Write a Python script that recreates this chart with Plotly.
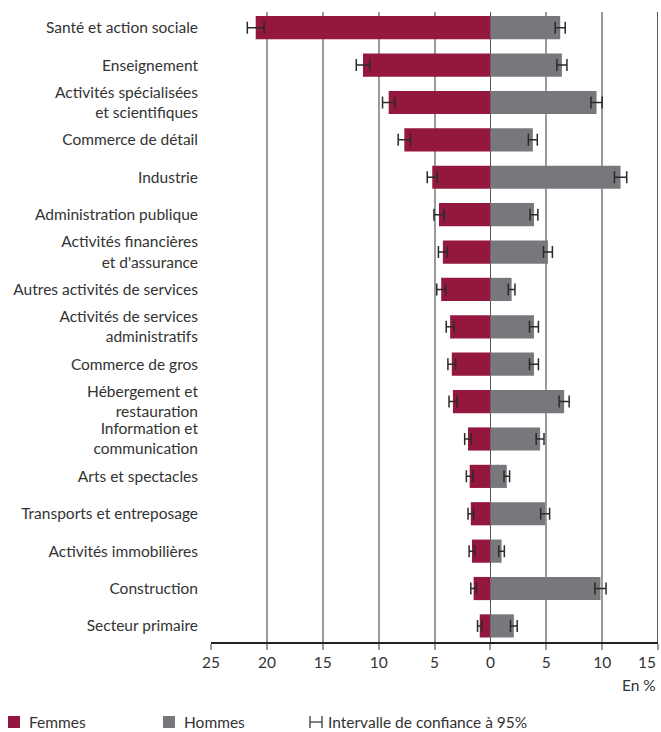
import plotly.graph_objects as go

categories = [
    "Santé et action sociale", "Enseignement", "Activités spécialisées<br>et scientifiques",
    "Commerce de détail", "Industrie", "Administration publique",
    "Activités financières<br>et d'assurance", "Autres activités de services",
    "Activités de services<br>administratifs", "Commerce de gros",
    "Hébergement et<br>restauration", "Information et<br>communication",
    "Arts et spectacles", "Transports et entreposage", "Activités immobilières",
    "Construction", "Secteur primaire",
]
femmes = [21.0, 11.4, 9.1, 7.7, 5.2, 4.6, 4.25, 4.4, 3.6, 3.45, 3.35, 2.0, 1.85, 1.75, 1.65, 1.5, 0.95]
femmes_ci = [0.75, 0.6, 0.55, 0.55, 0.45, 0.45, 0.4, 0.4, 0.35, 0.35, 0.35, 0.3, 0.3, 0.25, 0.25, 0.25, 0.2]
hommes = [6.25, 6.4, 9.5, 3.8, 11.65, 3.9, 5.15, 1.9, 3.9, 3.9, 6.6, 4.45, 1.47, 4.9, 1.0, 9.85, 2.1]
hommes_ci = [0.45, 0.45, 0.5, 0.4, 0.55, 0.35, 0.4, 0.3, 0.4, 0.4, 0.45, 0.35, 0.25, 0.4, 0.25, 0.5, 0.3]
tick_vals = [-25, -20, -15, -10, -5, 0, 5, 10, 15]
tick_text = ["25", "20", "15", "10", "5", "0", "5", "10", ""]
last_tick_label = "15"

RED = "#94173d"
GRAY = "#77787b"
ERR = "#2a2a2a"
FONT = "Lato"
FS = 15.5
TXT = "#333333"

fig = go.Figure()
fig.add_trace(go.Bar(
    y=categories, x=[-v for v in femmes], orientation="h", marker_color=RED,
    marker_line_width=0, name="Femmes",
    error_x=dict(type="data", array=femmes_ci, color=ERR, thickness=1.5, width=6),
))
fig.add_trace(go.Bar(
    y=categories, x=hommes, orientation="h", marker_color=GRAY,
    marker_line_width=0, name="Hommes",
    error_x=dict(type="data", array=hommes_ci, color=ERR, thickness=1.5, width=6),
))

fig.update_layout(
    width=661, height=732,
    margin=dict(l=211, r=3, t=12, b=90),
    barmode="overlay", bargap=0.38,
    plot_bgcolor="white", paper_bgcolor="white",
    showlegend=False,
    font=dict(family=FONT, size=FS, color=TXT),
)
fig.update_xaxes(
    range=[-25, 15], tickvals=tick_vals, ticktext=tick_text,
    showgrid=True, gridcolor="#9a9a9a", gridwidth=1.5,
    zeroline=True, zerolinecolor="#555555", zerolinewidth=1,
    showline=True, linecolor="#222222", linewidth=1.5,
    ticks="outside", ticklen=6, tickcolor="#9a9a9a", tickwidth=1.5,
    automargin=False,
    tickfont=dict(family=FONT, size=FS, color=TXT),
)
fig.update_yaxes(
    categoryorder="array", categoryarray=categories,
    range=[16.43, -0.42], showgrid=False, zeroline=False,
    ticks="", ticklabelstandoff=12, automargin=False,
    tickfont=dict(family=FONT, size=FS, color=TXT),
)

# right frame line at 15
fig.add_shape(type="line", xref="x", yref="paper", x0=15, x1=15, y0=0, y1=1,
              line=dict(color="#222222", width=1.5))

H = 630.0
W = 447.0
def px(xp):
    return (xp - 211) / W
def py(yp):
    return (642 - yp) / H

# last tick label, right-aligned at the edge as in the original
fig.add_annotation(text=last_tick_label, xref="paper", yref="paper", x=1, y=py(662),
                   xanchor="right", yanchor="middle", showarrow=False,
                   font=dict(family=FONT, size=FS, color=TXT))

fig.add_annotation(text="En %", xref="paper", yref="paper", x=1, y=py(685),
                   xanchor="right", yanchor="middle", showarrow=False,
                   font=dict(family=FONT, size=FS, color=TXT))

# legend drawn manually
LY = 722
fig.add_shape(type="rect", xref="paper", yref="paper", x0=px(8), x1=px(20), y0=py(LY + 6), y1=py(LY - 6),
              fillcolor=RED, line_width=0)
fig.add_annotation(text="Femmes", xref="paper", yref="paper", x=px(27), y=py(LY),
                   xanchor="left", yanchor="middle", showarrow=False,
                   font=dict(family=FONT, size=FS, color=TXT))
fig.add_shape(type="rect", xref="paper", yref="paper", x0=px(163), x1=px(175), y0=py(LY + 6), y1=py(LY - 6),
              fillcolor=GRAY, line_width=0)
fig.add_annotation(text="Hommes", xref="paper", yref="paper", x=px(182), y=py(LY),
                   xanchor="left", yanchor="middle", showarrow=False,
                   font=dict(family=FONT, size=FS, color=TXT))
fig.add_shape(type="line", xref="paper", yref="paper", x0=px(310), x1=px(322), y0=py(LY), y1=py(LY),
              line=dict(color=ERR, width=1.2))
fig.add_shape(type="line", xref="paper", yref="paper", x0=px(310), x1=px(310), y0=py(LY + 6), y1=py(LY - 6),
              line=dict(color=ERR, width=1.2))
fig.add_shape(type="line", xref="paper", yref="paper", x0=px(322), x1=px(322), y0=py(LY + 6), y1=py(LY - 6),
              line=dict(color=ERR, width=1.2))
fig.add_annotation(text="Intervalle de confiance à 95%", xref="paper", yref="paper", x=px(326), y=py(LY),
                   xanchor="left", yanchor="middle", showarrow=False,
                   font=dict(family=FONT, size=FS, color=TXT))

fig.write_html("out.html", config={"displayModeBar": False},
               post_script="document.body.style.margin='0';document.body.style.overflow='hidden';")
